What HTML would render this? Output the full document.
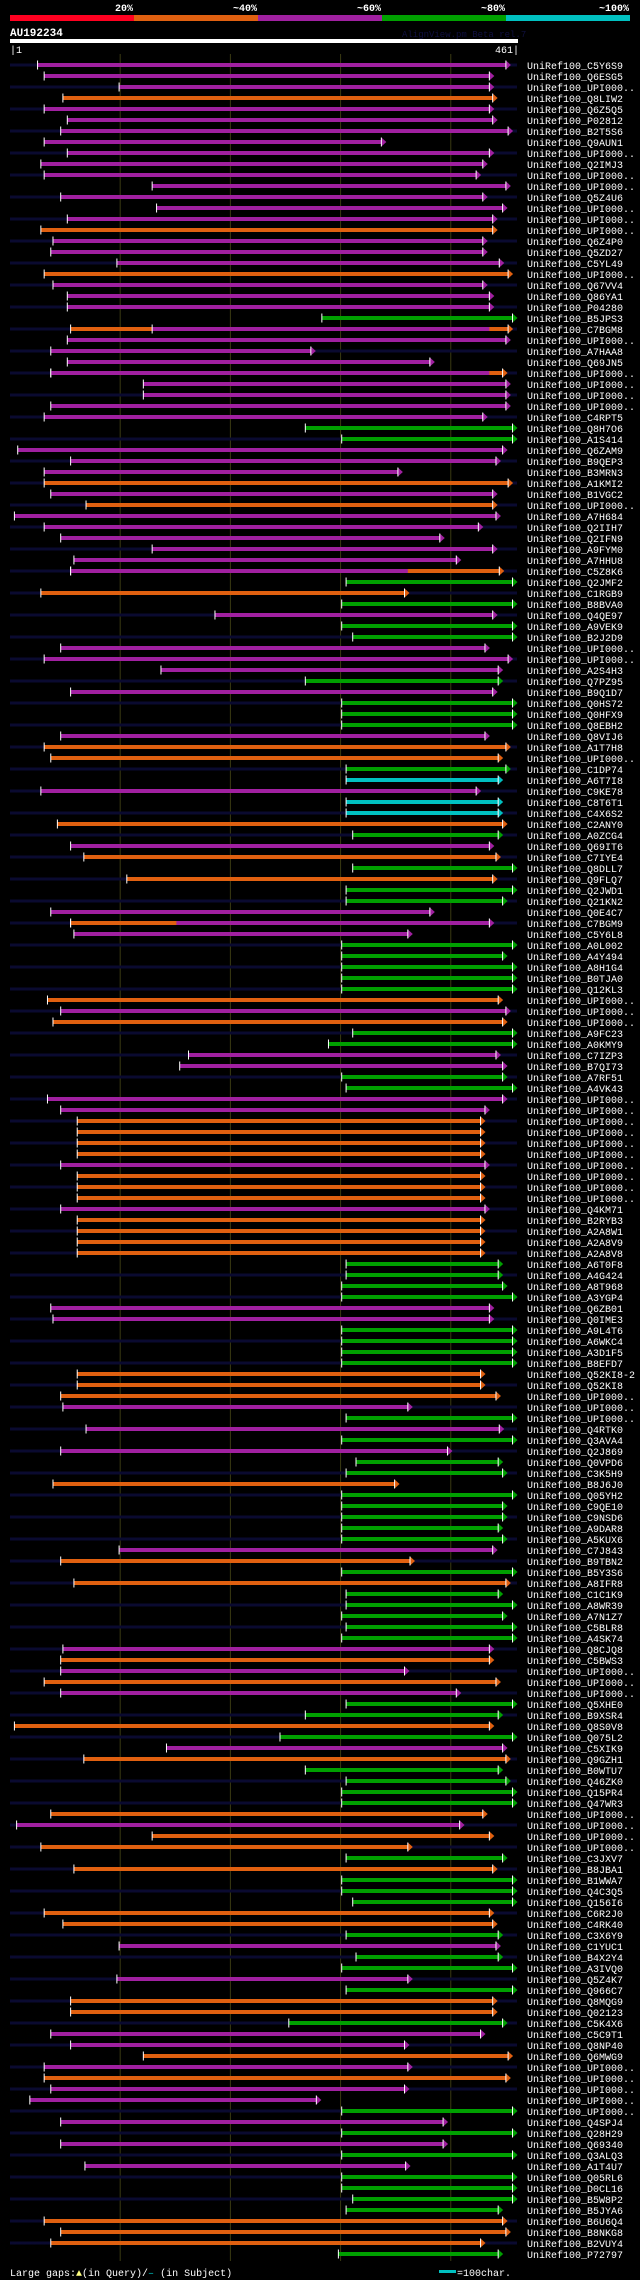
<!DOCTYPE html>
<html><head><meta charset="utf-8">
<style>
html,body{margin:0;padding:0;background:#000;}
body{width:640px;height:2280px;overflow:hidden;position:relative;font-family:"Liberation Mono","DejaVu Sans Mono",monospace;}
svg{position:absolute;left:0;top:0;}
</style></head>
<body>
<svg id="chart" width="640" height="2280" viewBox="0 0 640 2280">
  <g>
    <rect x="10" y="15" width="124" height="6" fill="#ff0020"/>
    <rect x="134" y="15" width="124" height="6" fill="#e06010"/>
    <rect x="258" y="15" width="124" height="6" fill="#a020a0"/>
    <rect x="382" y="15" width="124" height="6" fill="#00a000"/>
    <rect x="506" y="15" width="124" height="6" fill="#00c0c0"/>
    <g font-family="Liberation Mono, monospace" font-size="10" font-weight="bold" fill="#fff" text-anchor="end">
      <text x="133" y="11">20%</text>
      <text x="257" y="11">~40%</text>
      <text x="381" y="11">~60%</text>
      <text x="505" y="11">~80%</text>
      <text x="629" y="11">~100%</text>
    </g>
  </g>
  <text x="10" y="36" font-family="Liberation Mono, monospace" font-size="11" font-weight="bold" fill="#fff">AU192234</text>
  <text x="402" y="37" font-family="Liberation Mono, monospace" font-size="9" fill="#101040">AlignView.pm Beta rel.7</text>
  <rect x="10" y="39" width="508" height="4" fill="#fff"/>
  <text x="10" y="53" font-family="Liberation Mono, monospace" font-size="10" fill="#fff">|1</text>
  <text x="519" y="53" text-anchor="end" font-family="Liberation Mono, monospace" font-size="10" fill="#fff">461|</text>
  <g id="grid"></g>
  <g id="rows"></g>
  <g font-family="Liberation Mono, monospace" font-size="10" fill="#fff">
    <text x="10" y="2276">Large gaps:<tspan fill="#ffff80">▲</tspan>(in Query)/<tspan fill="#00c0c0">–</tspan> (in Subject)</text>
    <rect x="439" y="2270" width="17" height="3" fill="#00c0c0"/>
    <text x="457" y="2276">=100char.</text>
  </g>
</svg>
<script>
const queryLength = 461;
const gridTicks = [100, 200, 300, 400];
const rowLabels = ["C5Y6S9","Q6ESG5","UPI000..","Q8LIW2","Q6Z5Q5","P02812","B2T5S6","Q9AUN1","UPI000..","Q2IMJ3","UPI000..","UPI000..","Q5Z4U6","UPI000..","UPI000..","UPI000..","Q6Z4P0","Q5ZD27","C5YL49","UPI000..",
"Q67VV4","Q86YA1","P04280","B5JPS3","C7BGM8","UPI000..","A7HAA8","Q69JN5","UPI000..","UPI000..","UPI000..","UPI000..","C4RPT5","Q8H7O6","A1S414","Q6ZAM9","B9QEP3","B3MRN3","A1KMI2","B1VGC2",
"UPI000..","A7H684","Q2IIH7","Q2IFN9","A9FYM0","A7HHU8","C5Z8K6","Q2JMF2","C1RGB9","B8BVA0","Q4QE97","A9VEK9","B2J2D9","UPI000..","UPI000..","A2S4H3","Q7PZ95","B9Q1D7","Q0HS72","Q0HFX9",
"Q8EBH2","Q8VIJ6","A1T7H8","UPI000..","C1DP74","A6T7I8","C9KE78","C8T6T1","C4X6S2","C2ANY0","A0ZCG4","Q69IT6","C7IYE4","Q8DLL7","Q9FLQ7","Q2JWD1","Q21KN2","Q0E4C7","C7BGM9","C5Y6L8",
"A0L002","A4Y494","A8H1G4","B0TJA0","Q12KL3","UPI000..","UPI000..","UPI000..","A9FC23","A0KMY9","C7IZP3","B7QI73","A7RF51","A4VK43","UPI000..","UPI000..","UPI000..","UPI000..","UPI000..","UPI000..",
"UPI000..","UPI000..","UPI000..","UPI000..","Q4KM71","B2RYB3","A2A8W1","A2A8V9","A2A8V8","A6T0F8","A4G424","A8T968","A3YGP4","Q6ZB01","Q0IME3","A9L4T6","A6WKC4","A3D1F5","B8EFD7","Q52KI8-2",
"Q52KI8","UPI000..","UPI000..","UPI000..","Q4RTK0","Q3AVA4","Q2J869","Q0VPD6","C3K5H9","B8J6J0","Q05YH2","C9QE10","C9NSD6","A9DAR8","A5KUX6","C7J843","B9TBN2","B5Y3S6","A8IFR8","C1C1K9",
"A8WR39","A7N1Z7","C5BLR8","A4SK74","Q8CJQ8","C5BWS3","UPI000..","UPI000..","UPI000..","Q5XHE0","B9XSR4","Q8S0V8","Q075L2","C5XIK9","Q9GZH1","B0WTU7","Q46ZK0","Q15PR4","Q47WR3","UPI000..",
"UPI000..","UPI000..","UPI000..","C3JXV7","B8JBA1","B1WWA7","Q4C3Q5","Q156I6","C6R2J0","C4RK40","C3X6Y9","C1YUC1","B4X2Y4","A3IVQ0","Q5Z4K7","Q966C7","Q8MQG9","Q02123","C5K4X6","C5C9T1",
"Q8NP40","Q6MWG9","UPI000..","UPI000..","UPI000..","UPI000..","UPI000..","Q4SPJ4","Q28H29","Q69340","Q3ALQ3","A1T4U7","Q05RL6","D0CL16","B5W8P2","B5JYA6","B6U6Q4","B8NKG8","B2VUY4","P72797"];
const rowClass = "PPPOPPPPPPPPPPPOPPPO"+"PPPGOPPPOPPPPGGPPPOP"+"OPPPPPOGOGPGGPPPGPGG"+"GPOOGCPCCOGPOGOGGPPP"+"GGGGGOPOGGPPGGPPOOOO"+"POOOPOOOOGGGGPPGGGGO"+"OOPGPGPGGOGGGGGPOGOG"+"GGGGPOPOPGGOGPOGGGGO"+"POOGOGGGOOGPGGPGOOGP"+"POPOPPGPGPGPGGGGOOOG";
const rowStart = [25,31,99,48,31,52,46,31,52,28,31,129,46,133,52,28,39,37,97,31,
39,52,52,283,55,52,37,52,37,121,121,37,31,268,301,7,55,31,31,37,
69,4,31,46,129,58,55,305,28,301,186,301,311,46,31,137,268,55,301,301,
301,46,31,37,305,305,28,305,305,43,311,55,67,311,106,305,305,37,55,58,
301,301,301,301,301,34,46,39,311,289,162,154,301,305,34,46,61,61,61,61,
46,61,61,61,46,61,61,61,61,305,305,301,301,37,39,301,301,301,301,61,
61,46,48,305,69,301,46,314,305,39,301,301,301,301,301,99,46,301,58,305,
305,301,305,301,48,46,46,31,46,305,268,4,245,142,67,268,305,301,301,37,
6,129,28,305,58,301,301,311,31,48,305,99,314,301,97,305,55,55,253,37,
55,121,31,31,37,18,301,46,301,46,301,68,301,301,311,305,31,46,37,298];
const rowEnd = [450,435,435,438,435,438,452,337,435,429,423,450,429,447,438,438,429,429,444,452,
429,435,435,456,452,450,273,381,447,450,450,450,429,456,456,447,441,352,452,438,
438,441,425,390,438,405,444,456,358,456,438,456,456,431,452,443,443,438,456,456,
456,431,450,443,450,443,423,443,443,447,443,435,441,456,438,456,447,381,435,361,
456,447,456,456,456,443,450,447,456,456,441,447,447,456,447,431,427,427,427,427,
431,427,427,427,431,427,427,427,427,443,443,447,456,435,435,456,456,456,456,427,
427,441,361,456,444,456,397,443,447,349,456,447,447,443,447,438,363,456,450,443,
456,447,456,456,435,435,358,441,405,456,443,435,456,447,450,443,450,456,456,429,
408,435,361,447,438,456,456,456,435,438,443,441,443,456,361,456,438,438,447,427,
358,452,361,450,358,278,456,393,456,393,456,359,456,456,456,443,447,450,427,443];
const overlayRows = [25, 29, 47, 79];
const overlayStart = [129, 37, 55, 55];
const overlayEnd = [435, 435, 361, 151];
const overlayClass = ["P", "P", "P", "O"];

const colorMap = {P:"#a020a0", O:"#e06010", G:"#00a000", C:"#00c0c0"};
const X0 = 10, X1 = 518, Y0 = 65, ROWH = 11;
function xScale(r){ return X0 + r * (X1 - X0) / queryLength; }
function yRow(i){ return Y0 + i * ROWH; }
const NS = "http://www.w3.org/2000/svg";
function mk(tag, attrs){ const e = document.createElementNS(NS, tag); for (const k in attrs) e.setAttribute(k, attrs[k]); return e; }

const grid = document.getElementById('grid');
const gridBottom = yRow(rowLabels.length - 1) + 7;
gridTicks.forEach(function(t){
  const l = mk('line', {x1:xScale(t), x2:xScale(t), y1:54, y2:gridBottom, stroke:'#3a3a12', 'stroke-width':1});
  
  
  grid.appendChild(l);
});

const rows = document.getElementById('rows');
for (let i = 0; i < rowLabels.length; i++) {
  const y = yRow(i);
  const g = mk('g', {});
  
  
  if (i % 2 === 0) {
    const band = mk('rect', {x:X0, y:y - 1.5, width:517 - X0, height:3, fill:'#0a0a30'});
    
    
    g.appendChild(band);
  }
  const c = colorMap[rowClass[i]];
  const xs = xScale(rowStart[i]), xe = xScale(rowEnd[i]);
  const bar = mk('rect', {x:xs, y:y - 2, width:Math.max(1, xe - xs), height:4, fill:c});
  
  
  g.appendChild(bar);
  const arrow = mk('polygon', {points:(xe) + ',' + (y - 4.5) + ' ' + (xe + 5) + ',' + y + ' ' + (xe) + ',' + (y + 4.5), fill:c});
  
  
  g.appendChild(arrow);
  const aTick = mk('rect', {x:xe - 0.5, y:y - 4.5, width:1, height:9, fill:'#fff'});
  
  
  g.appendChild(aTick);
  const sTick = mk('rect', {x:xs - 0.5, y:y - 4.5, width:1, height:9, fill:'#fff'});
  
  
  g.appendChild(sTick);
  const t = mk('text', {x:527, y:y + 4, fill:'#fff', 'font-size':10, 'font-family':'Liberation Mono, DejaVu Sans Mono, monospace'});
  t.textContent = 'UniRef100_' + rowLabels[i];
  
  
  g.appendChild(t);
  rows.appendChild(g);
}
overlayRows.forEach(function(r, k){
  const y = yRow(r - 1);
  const xs = xScale(overlayStart[k]), xe = xScale(overlayEnd[k]);
  const o = mk('rect', {x:xs, y:y - 2, width:xe - xs, height:4, fill:colorMap[overlayClass[k]]});
  
  
  rows.appendChild(o);
  const w = mk('rect', {x:xs - 0.5, y:y - 4.5, width:1, height:9, fill:'#fff'});
  
  
  rows.appendChild(w);
});
</script>
</body></html>
